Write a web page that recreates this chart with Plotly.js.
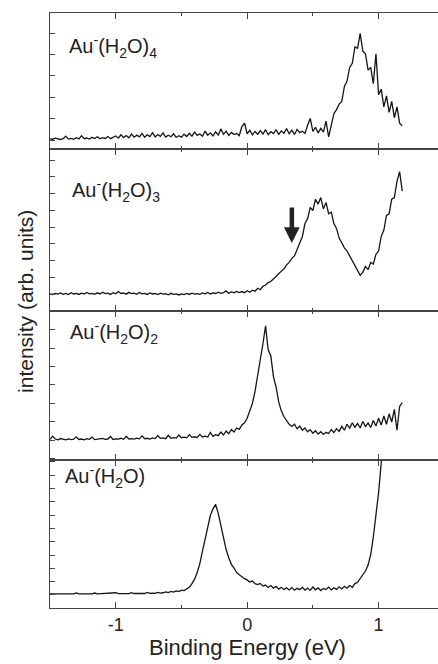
<!DOCTYPE html>
<html>
<head>
<meta charset="utf-8">
<script src="https://cdn.plot.ly/plotly-3.0.1.min.js"></script>
<style>
html,body{margin:0;padding:0;background:#fff;overflow:hidden;}
#chart{width:438px;height:664px;}
</style>
</head>
<body>
<div id="chart"></div>
<script>
// Binding energy grid: start and step (eV)
const energyStart = -1.5;
const energyStep = 0.02;

const panelLabels = [
  "Au<sup>-</sup>(H<sub>2</sub>O)<sub>4</sub>",
  "Au<sup>-</sup>(H<sub>2</sub>O)<sub>3</sub>",
  "Au<sup>-</sup>(H<sub>2</sub>O)<sub>2</sub>",
  "Au<sup>-</sup>(H<sub>2</sub>O)"
];
const xTickVals = [-1, 0, 1];
const xTickText = ["-1", "0", "1"];

// Au-(H2O)4 intensity (arb. units)
const int4 = [7.5,7.2,8.0,7.4,7.0,7.6,9.5,7.3,7.8,7.1,8.3,7.4,9.8,7.6,8.1,7.3,8.6,7.7,9.0,7.5,
  8.4,7.8,9.2,7.6,8.8,9.6,8.0,10.5,8.4,9.9,8.2,11.0,8.7,10.2,9.0,11.5,8.6,10.4,9.1,12.0,
  8.9,10.6,9.3,11.8,8.8,10.1,9.0,11.2,8.5,9.8,8.7,10.9,9.2,11.6,9.5,12.4,10.0,11.1,9.4,13.2,
  10.2,11.9,9.7,12.6,10.3,14.8,10.8,13.1,10.0,12.2,10.6,11.4,9.9,16.5,19.0,11.2,13.8,10.4,12.9,10.9,
  13.5,11.0,14.2,10.6,12.7,11.3,14.0,10.8,13.3,11.6,15.0,11.2,13.9,10.7,14.4,12.0,13.1,11.5,17.5,22.5,
  13.0,16.0,11.8,15.2,12.4,20.5,9.0,18.0,26.0,29.0,33.0,35.0,46.0,50.0,60.0,63.0,75.0,74.0,85.0,72.0,
  70.0,58.0,60.0,48.0,70.0,40.0,44.0,31.0,39.0,27.0,35.0,23.0,31.0,19.0,17.0];

// Au-(H2O)3 intensity (arb. units)
const int3 = [10.6,10.2,10.9,10.4,11.1,10.3,10.8,10.1,11.3,10.5,10.9,10.2,11.0,10.4,11.4,10.6,10.9,10.3,11.2,10.5,
  11.6,10.7,11.0,10.2,11.3,10.6,12.0,10.8,11.1,10.4,11.5,10.7,11.0,10.3,11.4,10.6,10.9,10.2,11.1,10.5,
  10.8,10.1,11.0,10.4,10.7,10.0,10.9,10.3,10.6,9.9,10.5,10.1,10.8,10.2,11.0,10.4,10.7,10.3,11.1,10.6,
  11.4,10.5,11.2,10.8,11.6,10.9,11.3,12.4,11.0,11.8,11.2,12.1,11.4,12.0,11.3,12.5,11.6,12.8,12.2,14.0,
  13.1,15.2,16.0,17.5,18.2,20.0,21.3,23.0,24.6,26.0,28.5,30.0,32.5,34.0,38.0,42.0,46.0,54.0,57.0,64.0,
  62.0,69.0,66.0,70.0,63.0,67.0,60.0,61.0,54.0,51.0,45.0,42.0,39.0,37.0,34.0,31.5,28.0,25.0,22.0,24.0,
  27.5,25.5,30.0,29.0,35.0,37.0,46.0,50.0,59.0,60.0,69.0,70.0,80.0,86.0,74.0];

// Au-(H2O)2 intensity (arb. units)
const int2 = [13.8,16.0,14.1,13.6,14.4,13.9,13.5,14.2,13.7,14.0,15.6,13.8,14.1,13.6,14.3,13.9,15.4,13.7,14.0,13.8,
  14.5,13.9,14.1,15.8,13.8,14.2,14.0,14.6,13.9,15.9,14.1,14.4,14.0,14.7,14.2,16.2,14.3,14.6,14.1,14.9,
  14.4,16.4,14.5,14.8,14.3,16.6,14.6,15.0,14.7,16.8,15.0,15.4,14.9,17.0,15.2,15.6,15.1,17.2,15.5,16.0,
  15.4,18.5,15.9,17.0,16.3,18.8,16.8,19.5,17.6,20.4,18.8,21.5,20.6,23.5,25.0,28.0,33.0,38.0,46.0,56.0,
  66.0,78.0,90.0,74.0,70.0,56.0,49.0,39.0,33.0,29.0,26.5,24.0,22.5,24.0,21.0,22.8,20.0,21.5,18.9,20.4,
  18.0,19.6,17.4,19.0,17.2,18.6,17.8,20.5,18.4,21.0,19.2,22.6,20.0,24.0,21.4,25.0,22.0,24.5,21.5,25.8,
  22.4,24.8,21.8,26.5,22.8,28.0,23.5,29.5,24.0,31.0,25.5,34.0,20.0,36.0,38.5];

// Au-(H2O) intensity (arb. units)
const int1 = [9.5,9.5,9.6,9.4,9.5,9.7,9.5,9.4,9.6,9.5,10.2,9.5,9.6,9.4,9.7,9.5,9.6,10.1,9.5,9.6,
  9.7,9.5,9.8,9.6,9.7,10.3,9.7,9.8,9.6,9.9,9.7,10.4,9.8,9.9,9.7,10.0,9.8,10.5,9.9,10.1,
  9.9,10.6,10.1,10.3,10.9,10.4,11.2,10.8,11.6,11.1,12.0,11.8,13.2,14.0,16.5,19.5,24.0,30.0,38.5,47.0,
  55.0,62.5,67.0,70.0,64.0,55.0,46.0,39.5,34.0,29.5,27.0,24.0,22.5,21.0,19.8,19.0,17.5,18.2,16.4,15.8,
  16.6,14.8,15.5,13.9,15.2,13.4,14.6,12.8,14.0,12.5,13.6,12.2,13.8,12.0,13.3,12.4,14.0,12.1,13.5,11.9,
  14.2,12.3,13.6,11.8,13.2,12.5,14.1,12.2,13.7,12.6,14.3,12.9,14.6,13.4,15.2,14.0,16.5,17.4,19.8,22.5,
  25.0,29.0,36.0,48.0,62.0,78.0,98.0,120.0];

// y tick start / spacing for each panel (top to bottom)
const yTick0 = [6.6, 10.4, 13.4, 8.8];
const yDtick = [15.7, 10.35, 12.35, 9.0];

function energies(n){ const e=[]; for(let i=0;i<n;i++) e.push(+(energyStart+i*energyStep).toFixed(3)); return e; }

const series = [int4, int3, int2, int1];
// panel domains (plot area top 13px, bottom 608px)
const domains = [[0.7714,1.0],[0.4992,0.7714],[0.2487,0.4992],[0.0,0.2487]];
const axisIds = ['4','3','2',''];
const font = "Liberation Sans, Arial, sans-serif";
const lineCol = '#444';

const data = series.map((s,k)=>({
  x: energies(s.length), y: s, type:'scatter', mode:'lines',
  line:{color:'#151515', width:1.3},
  xaxis:'x'+axisIds[k], yaxis:'y'+axisIds[k], hoverinfo:'skip'
}));

const layout = {
  width:438, height:664,
  margin:{l:50, r:0, t:13, b:56},
  paper_bgcolor:'#fff', plot_bgcolor:'#fff',
  showlegend:false,
  font:{family:font, color:'#222'},
  annotations:[]
};
const xRange = [-1.5, 1.452];
series.forEach((s,k)=>{
  const id = axisIds[k];
  layout['xaxis'+id] = {
    domain:[0,1], range:xRange, anchor:'y'+id,
    showline:true, linecolor:lineCol, linewidth:1.4, mirror:'ticks',
    ticks:'inside', ticklen:6, tickwidth:1, tickcolor:lineCol,
    tickvals:xTickVals, ticktext:xTickText,
    showticklabels: id==='',
    tickfont:{size:18, color:'#222', family:font},
    minor:{tickvals:[-0.5,0.5], ticks:'inside', ticklen:3, tickcolor:lineCol},
    showgrid:false, zeroline:false, fixedrange:true
  };
  layout['yaxis'+id] = {
    domain:domains[k], range:[0,100], anchor:'x'+id,
    showline:true, linecolor:lineCol, linewidth:1.4, mirror:false,
    ticks:'inside', ticklen:5, tickcolor:lineCol,
    tickmode:'linear', tick0:yTick0[k], dtick:yDtick[k],
    showticklabels:false, showgrid:false, zeroline:false, fixedrange:true
  };
});

const labelX = [0.044, 0.052, 0.046, 0.034];
const labelY = [0.9445, 0.7025, 0.4622, 0.2218];
panelLabels.forEach((t,k)=>{
  layout.annotations.push({text:t, xref:'paper', yref:'paper', x:labelX[k], y:labelY[k],
    xanchor:'left', yanchor:'middle', showarrow:false, font:{size:20, color:'#222', family:font}});
});
// arrow marking the shoulder in Au-(H2O)3
layout.annotations.push({text:'', xref:'x3', yref:'y3', x:0.34, y:42, ax:0, ay:-37,
  showarrow:true, arrowhead:2, arrowsize:0.7, arrowwidth:4.5, arrowcolor:'#222', standoff:0});
layout.annotations.push({text:'Binding Energy (eV)', xref:'paper', yref:'paper', x:0.508, y:-0.067,
  xanchor:'center', yanchor:'middle', showarrow:false, font:{size:22, color:'#222', family:font}});
layout.annotations.push({text:'intensity (arb. units)', xref:'paper', yref:'paper', x:-0.062, y:0.516,
  xanchor:'center', yanchor:'middle', textangle:-90, showarrow:false, font:{size:21, color:'#222', family:font}});

Plotly.newPlot('chart', data, layout, {staticPlot:true, displayModeBar:false});
</script>
</body>
</html>
